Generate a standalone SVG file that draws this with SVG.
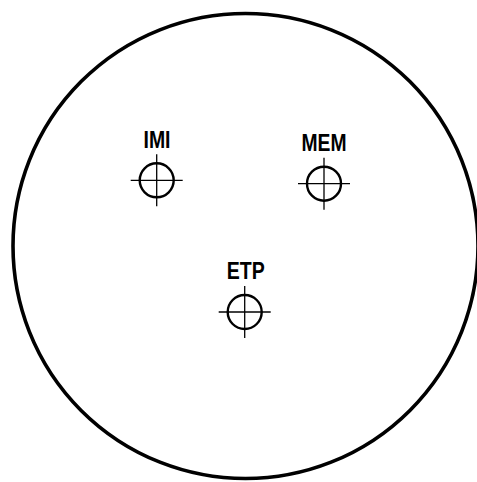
<svg xmlns="http://www.w3.org/2000/svg" width="477" height="482" viewBox="0 0 477 482">
<style>
.lbl{font-family:"Liberation Sans",Arial,sans-serif;font-weight:bold;font-size:24px;fill:#000;text-anchor:middle}
.ring{fill:none;stroke:#000;stroke-width:2.4}
.cross{stroke:#000;stroke-width:1.3}
</style>
<defs>
<g id="target">
<circle class="ring" cx="0" cy="0" r="17"/>
<line class="cross" x1="-26" y1="0" x2="26" y2="0"/>
<line class="cross" x1="0" y1="-26" x2="0" y2="26"/>
</g>
</defs>
<rect width="477" height="482" fill="#fff"/>
<ellipse cx="245.5" cy="246" rx="232.5" ry="232.5" fill="none" stroke="#000" stroke-width="3.6"/>
<g id="connectors"></g>
<g id="IMI">
<text class="lbl" x="157" y="147.5" textLength="27" lengthAdjust="spacingAndGlyphs">IMI</text>
<use href="#target" x="156.7" y="180.3"/>
</g>
<g id="MEM">
<text class="lbl" x="324" y="151" textLength="45" lengthAdjust="spacingAndGlyphs">MEM</text>
<use href="#target" x="324" y="183.7"/>
</g>
<g id="ETP">
<text class="lbl" x="245.8" y="279.3" textLength="38" lengthAdjust="spacingAndGlyphs">ETP</text>
<use href="#target" x="244.7" y="312"/>
</g>
</svg>
